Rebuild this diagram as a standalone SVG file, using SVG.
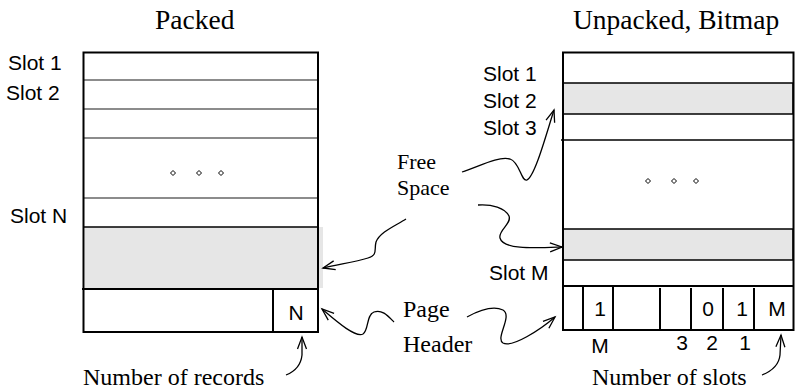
<svg xmlns="http://www.w3.org/2000/svg" width="795" height="389" viewBox="0 0 795 389">
<style>
.sans{font-family:"Liberation Sans",Arial,sans-serif;font-size:21px;fill:#000}
.serif{font-family:"Liberation Serif","Times New Roman",serif;font-size:24px;fill:#000}
.fs{font-family:"Liberation Serif","Times New Roman",serif;font-size:22px;fill:#000}
.title{font-family:"Liberation Serif","Times New Roman",serif;font-size:27.5px;fill:#000}
.mid{text-anchor:middle}
.border{fill:none;stroke:#000;stroke-width:2}
.thin{stroke:#666;stroke-width:1.3}
.blk{stroke:#000;stroke-width:1.5}
.band{fill:#e6e6e6;stroke:#000;stroke-width:1.5}
.dot{fill:#fff;stroke:#000;stroke-width:1}
.arrow{fill:none;stroke:#000;stroke-width:1.3;marker-end:url(#head)}
</style>
<defs>
<marker id="head" markerUnits="userSpaceOnUse" markerWidth="14" markerHeight="12" refX="0" refY="0" orient="auto" overflow="visible">
<path d="M-12,-4.5 L0,0 L-12,4.5" fill="none" stroke="#000" stroke-width="1.3"/>
</marker>
</defs>
<rect width="795" height="389" fill="#fff"/>
<text class="title" x="155" y="29">Packed</text>
<text class="title" x="573" y="29">Unpacked, Bitmap</text>
<g id="packed-page">
<rect x="85" y="227" width="238" height="61" fill="#e6e6e6"/>
<line class="thin" x1="84" y1="80" x2="318" y2="80"/>
<line class="thin" x1="84" y1="109" x2="318" y2="109"/>
<line class="thin" x1="84" y1="138" x2="318" y2="138"/>
<line class="thin" x1="84" y1="198" x2="318" y2="198"/>
<line class="blk" x1="84" y1="227" x2="318" y2="227"/>
<line class="border" x1="82" y1="289" x2="318" y2="289"/>
<line class="border" x1="273" y1="288" x2="273" y2="332"/>
<rect class="border" x="83.5" y="52.5" width="234.5" height="279.5"/>
<path class="dot" d="M173,170.5 L175.5,173 L173,175.5 L170.5,173 Z"/>
<path class="dot" d="M199,170.5 L201.5,173 L199,175.5 L196.5,173 Z"/>
<path class="dot" d="M221,170.5 L223.5,173 L221,175.5 L218.5,173 Z"/>
<text class="sans mid" x="296" y="320">N</text>
<text class="sans" x="8" y="70">Slot 1</text>
<text class="sans" x="6" y="100">Slot 2</text>
<text class="sans" x="10" y="223">Slot N</text>
<text class="serif" x="83" y="385">Number of records</text>
</g>
<g id="bitmap-page">
<rect class="band" x="563" y="83" width="230" height="31"/>
<rect class="band" x="563" y="229" width="230" height="31"/>
<line class="blk" x1="561" y1="140" x2="793" y2="140"/>
<line class="border" x1="563" y1="286" x2="793" y2="286"/>
<line class="border" x1="583" y1="286" x2="583" y2="330"/>
<line class="border" x1="613" y1="286" x2="613" y2="330"/>
<line class="border" x1="660" y1="288" x2="660" y2="330"/>
<line class="border" x1="691" y1="288" x2="691" y2="330"/>
<line class="border" x1="723" y1="288" x2="723" y2="330"/>
<line class="border" x1="754" y1="288" x2="754" y2="330"/>
<rect class="border" x="563" y="52.5" width="230.5" height="277.5"/>
<path class="dot" d="M648,178.5 L650.5,181 L648,183.5 L645.5,181 Z"/>
<path class="dot" d="M674,178.5 L676.5,181 L674,183.5 L671.5,181 Z"/>
<path class="dot" d="M696,178.5 L698.5,181 L696,183.5 L693.5,181 Z"/>
<text class="sans mid" x="600" y="316">1</text>
<text class="sans mid" x="708" y="316">0</text>
<text class="sans mid" x="742" y="316">1</text>
<text class="sans mid" x="777" y="316">M</text>
<text class="sans mid" x="600" y="353">M</text>
<text class="sans mid" x="682" y="350">3</text>
<text class="sans mid" x="712" y="350">2</text>
<text class="sans mid" x="745" y="350">1</text>
<text class="sans" x="483" y="81">Slot 1</text>
<text class="sans" x="483" y="108">Slot 2</text>
<text class="sans" x="483" y="135">Slot 3</text>
<text class="sans" x="489" y="280">Slot M</text>
<text class="serif" x="592" y="385">Number of slots</text>
</g>
<g id="free-space-label">
<text class="fs" x="397" y="169">Free</text>
<text class="fs" x="397" y="195">Space</text>
</g>
<g id="page-header-label">
<text class="serif" x="403" y="317">Page</text>
<text class="serif" x="403" y="352">Header</text>
</g>
<g id="connectors">
<path class="arrow" d="M462,172 C480,166 498,156 510,159 C520,162 521,182 527,180 C535,176 546,135 554,110"/>
<path class="arrow" d="M406,219 C395,226 380,232 376,242 C374,250 378,255 368,258 C355,262 340,264 323,268"/>
<path class="arrow" d="M478,205 C492,204 505,208 509,216 C512,224 498,230 500,238 C503,250 535,248 562,247"/>
<path class="arrow" d="M394,322 C388,316 382,309 374,312 C366,315 369,330 363,334 C355,338 335,320 322,309"/>
<path class="arrow" d="M467,317 C478,311 492,305 503,310 C513,316 495,338 503,343 C512,348 540,330 555,317"/>
<path class="arrow" d="M286,375 C296,371 301,365 302,355 L302,337"/>
<path class="arrow" d="M762,375 C772,371 779,365 780,355 L781,335"/>
</g>
</svg>
